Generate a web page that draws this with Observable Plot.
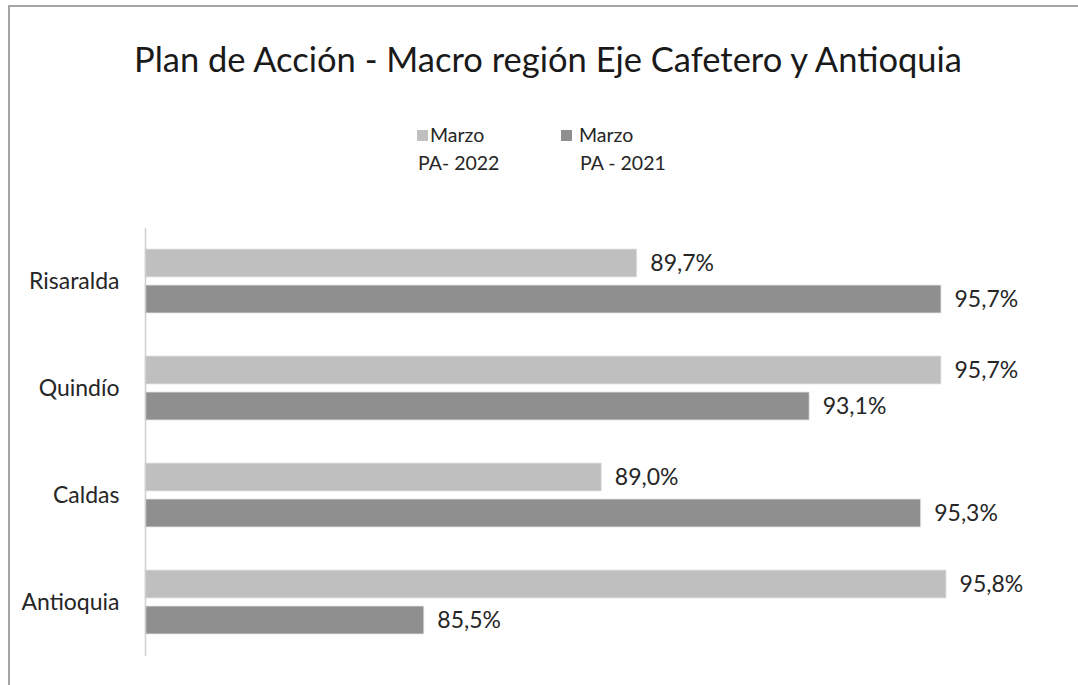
<!DOCTYPE html>
<html>
<head>
<meta charset="utf-8">
<script src="https://cdn.jsdelivr.net/npm/d3@7"></script>
<script src="https://cdn.jsdelivr.net/npm/@observablehq/plot@0.6"></script>
<style>
  body { margin: 0; background: #fff; font-family: Lato, "Open Sans", sans-serif; }
  #wrap { position: relative; width: 1078px; height: 685px; overflow: hidden; background: #fff; }
  #frame { position: absolute; left: 8px; top: 5px; width: 1200px; height: 800px;
           border-top: 2px solid #a6a6a6; border-left: 2px solid #a6a6a6; }
  #chart { position: absolute; left: 0; top: 0; }
  #title { position: absolute; left: 0; width: 1096px; top: 39px; text-align: center;
           font-size: 34.5px; line-height: 40px; color: #1a1a1a; white-space: nowrap; }
  .leg { position: absolute; font-size: 19.5px; line-height: 28px; color: #262626; white-space: nowrap; }
  .sw { position: absolute; width: 11px; height: 11px; }
</style>
</head>
<body>
<div id="wrap">
  <div id="frame"></div>
  <div id="chart"></div>
  <div id="title"></div>
  <div id="legend"></div>
</div>
<script>
// ---- data ----
const titleText = "Plan de Acción - Macro región Eje Cafetero y Antioquia";
const regions = ["Risaralda", "Quindío", "Caldas", "Antioquia"];
const seriesKeys = ["PA-2022", "PA-2021"];
const seriesLine1 = ["Marzo", "Marzo"];
const seriesLine2 = ["PA- 2022", "PA - 2021"];
const pa2022 = [89.7, 95.7, 89.0, 95.8];
const pa2021 = [95.7, 93.1, 95.3, 85.5];
const axisMin = 80;
const axisMax = 100;
const colors = ["#bfbfbf", "#8f8f8f"];

const rows = regions.flatMap((r, i) => [
  {region: r, series: seriesKeys[0], value: pa2022[i]},
  {region: r, series: seriesKeys[1], value: pa2021[i]}
]);
const fmt = v => v.toFixed(1).replace(".", ",") + "%";

document.getElementById("title").textContent = titleText;

// legend
const legend = document.getElementById("legend");
const legPos = [{sx: 417, tx: 430, t2: 418}, {sx: 561, tx: 579, t2: 580}];
seriesKeys.forEach((k, i) => {
  const sw = document.createElement("div");
  sw.className = "sw";
  sw.style.left = legPos[i].sx + "px";
  sw.style.top = "130px";
  sw.style.background = colors[i];
  legend.appendChild(sw);
  const t1 = document.createElement("div");
  t1.className = "leg";
  t1.style.left = legPos[i].tx + "px";
  t1.style.top = "121px";
  t1.textContent = seriesLine1[i];
  legend.appendChild(t1);
  const t2 = document.createElement("div");
  t2.className = "leg";
  t2.style.left = legPos[i].t2 + "px";
  t2.style.top = "149px";
  t2.textContent = seriesLine2[i];
  legend.appendChild(t2);
});

const chart = Plot.plot({
  width: 1078,
  height: 685,
  marginTop: 228,
  marginBottom: 29,
  marginLeft: 145,
  marginRight: 0,
  style: {background: "transparent", fontFamily: "Lato, 'Open Sans', sans-serif", fontSize: "23px", color: "#262626", overflow: "visible"},
  x: {domain: [axisMin, axisMax], range: [145, 1159], axis: null},
  fy: {domain: regions, padding: 0, axis: "left", label: null, tickSize: 0, tickPadding: 26},
  y: {domain: seriesKeys, paddingInner: 0.222, paddingOuter: 0.597, axis: null},
  color: {domain: seriesKeys, range: colors},
  marks: [
    Plot.barX(rows, {fy: "region", y: "series", x1: () => axisMin, x2: "value", fill: "series",
      stroke: "#e6e6e6", strokeWidth: 0.8}),
    Plot.ruleX([axisMin], {stroke: "#cfcfcf", strokeWidth: 1.5}),
    Plot.text(rows, {fy: "region", y: "series", x: "value", text: d => fmt(d.value),
      textAnchor: "start", dx: 13, fontSize: 23, fill: "#262626"})
  ]
});
document.getElementById("chart").appendChild(chart);
</script>
</body>
</html>
